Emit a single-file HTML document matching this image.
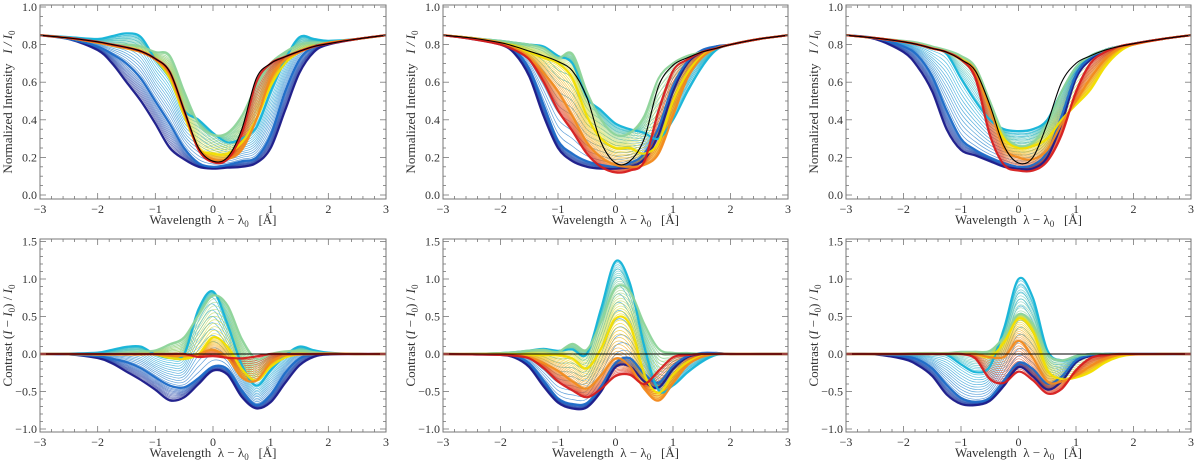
<!DOCTYPE html>
<html><head><meta charset="utf-8">
<style>
html,body{margin:0;padding:0;background:#fff;}
svg{display:block;font-family:'Liberation Serif','DejaVu Serif',serif;}
svg text{font-family:'Liberation Serif','DejaVu Serif',serif;}
</style></head>
<body>
<svg id="fig" width="1200" height="462" viewBox="0 0 1200 462" xmlns="http://www.w3.org/2000/svg"></svg>
<script>
const wavelengths=[-3,-2.5,-2,-1.75,-1.5,-1.25,-1,-0.75,-0.5,-0.25,0,0.25,0.5,0.75,1,1.25,1.5,1.75,2,2.5,3];
const xTicks=[-3,-2,-1,0,1,2,3];
const yTicksTop=[0.0,0.2,0.4,0.6,0.8,1.0];
const yTicksBot=[-1.0,-0.5,0.0,0.5,1.0,1.5];
const familyNames=['darkblue','blue','cyan','green','yellow','orange','red'];
const familyColors=['#1c1c8a','#1e6cc8','#16b4d8','#8ed49a','#f2de00','#f28a1e','#d61c1c'];
// panel 1
const p1Ref=[.85,.835,.815,.80,.785,.765,.725,.655,.45,.25,.18,.20,.35,.62,.70,.735,.765,.79,.805,.83,.85];
const p1Dark=[.85,.83,.77,.70,.60,.50,.38,.25,.19,.15,.14,.145,.15,.17,.25,.45,.65,.76,.80,.83,.85];
const p1Blue=[.85,.83,.79,.75,.70,.62,.50,.38,.25,.17,.15,.16,.18,.20,.32,.55,.72,.79,.81,.83,.85];
const p1Cyan=[.85,.84,.83,.845,.86,.84,.72,.62,.45,.40,.33,.28,.30,.36,.55,.72,.84,.83,.82,.83,.85];
const p1Green=[.85,.835,.81,.80,.80,.79,.76,.74,.55,.38,.32,.33,.42,.58,.70,.76,.80,.81,.81,.83,.85];
const p1Yellow=[.85,.835,.81,.795,.78,.76,.72,.62,.42,.25,.22,.22,.28,.40,.58,.70,.76,.79,.81,.83,.85];
const p1Orange=[.85,.835,.81,.795,.78,.76,.72,.64,.44,.25,.19,.19,.24,.40,.62,.72,.76,.79,.81,.83,.85];
const p1Red=[.85,.835,.815,.80,.785,.765,.725,.655,.45,.24,.175,.19,.33,.60,.70,.735,.765,.79,.805,.83,.85];
// panel 2
const p2Ref=[.85,.835,.81,.79,.765,.74,.71,.66,.52,.28,.17,.18,.30,.58,.69,.73,.76,.78,.80,.83,.85];
const p2Dark=[.85,.83,.80,.75,.63,.42,.25,.18,.15,.14,.14,.15,.19,.32,.55,.70,.76,.79,.80,.83,.85];
const p2Blue=[.85,.835,.81,.77,.67,.48,.29,.22,.18,.16,.15,.17,.22,.36,.58,.71,.77,.79,.80,.83,.85];
const p2Cyan=[.85,.835,.82,.81,.80,.79,.74,.70,.52,.45,.38,.35,.33,.30,.40,.55,.68,.77,.80,.83,.85];
const p2Green=[.85,.835,.82,.81,.80,.78,.73,.75,.55,.40,.32,.33,.42,.62,.70,.74,.76,.78,.80,.83,.85];
const p2Yellow=[.85,.835,.81,.79,.76,.73,.70,.62,.42,.30,.25,.25,.22,.28,.50,.65,.74,.78,.80,.83,.85];
const p2Orange=[.85,.835,.81,.78,.73,.65,.55,.42,.28,.20,.16,.15,.16,.22,.42,.62,.73,.78,.80,.83,.85];
const p2Red=[.85,.83,.80,.77,.72,.60,.45,.34,.22,.15,.12,.13,.18,.45,.66,.72,.76,.78,.80,.83,.85];
// panel 3
const p3Ref=[.85,.835,.815,.80,.78,.76,.72,.66,.48,.26,.17,.20,.38,.60,.70,.74,.77,.79,.805,.83,.85];
const p3Dark=[.85,.83,.76,.68,.55,.35,.24,.21,.18,.15,.14,.14,.20,.38,.62,.72,.77,.79,.805,.83,.85];
const p3Blue=[.85,.835,.79,.74,.63,.45,.30,.24,.20,.17,.15,.16,.23,.42,.64,.73,.77,.79,.805,.83,.85];
const p3Cyan=[.85,.835,.815,.80,.78,.75,.62,.50,.40,.35,.34,.35,.40,.55,.68,.74,.77,.79,.805,.83,.85];
const p3Green=[.85,.835,.82,.81,.79,.77,.74,.68,.50,.32,.26,.28,.38,.55,.68,.74,.77,.79,.805,.83,.85];
const p3Yellow=[.85,.835,.815,.80,.78,.76,.72,.66,.46,.30,.25,.26,.30,.40,.48,.56,.68,.76,.80,.83,.85];
const p3Orange=[.85,.835,.815,.80,.78,.76,.72,.66,.46,.25,.20,.19,.24,.38,.50,.62,.72,.78,.80,.83,.85];
const p3Red=[.85,.835,.815,.80,.78,.76,.72,.62,.32,.16,.13,.13,.18,.32,.55,.70,.76,.79,.805,.83,.85];

const panels=[
 {x0:40,x1:386,ref:p1Ref,fam:[p1Dark,p1Blue,p1Cyan,p1Green,p1Yellow,p1Orange,p1Red]},
 {x0:443,x1:788,ref:p2Ref,fam:[p2Dark,p2Blue,p2Cyan,p2Green,p2Yellow,p2Orange,p2Red]},
 {x0:846,x1:1191,ref:p3Ref,fam:[p3Dark,p3Blue,p3Cyan,p3Green,p3Yellow,p3Orange,p3Red]}
];
const NS='http://www.w3.org/2000/svg';
const svg=document.getElementById('fig');
const FSTYLE="font-family:'Liberation Serif','DejaVu Serif',serif";
function el(tag,attrs,parent){const e=document.createElementNS(NS,tag);for(const k in attrs)e.setAttribute(k,attrs[k]);(parent||svg).appendChild(e);return e;}
function hex2rgb(h){return [1,3,5].map(i=>parseInt(h.substr(i,2),16));}
function mix(a,b,t){const A=hex2rgb(a),B=hex2rgb(b);return 'rgb('+A.map((v,i)=>Math.round(v+(B[i]-v)*t)).join(',')+')';}
function smoothPath(pts){let d='M'+pts[0][0].toFixed(1)+','+pts[0][1].toFixed(1);
 for(let i=0;i<pts.length-1;i++){const p0=pts[Math.max(0,i-1)],p1=pts[i],p2=pts[i+1],p3=pts[Math.min(pts.length-1,i+2)];
  const c1=[p1[0]+(p2[0]-p0[0])/6,p1[1]+(p2[1]-p0[1])/6],c2=[p2[0]-(p3[0]-p1[0])/6,p2[1]-(p3[1]-p1[1])/6];
  d+='C'+c1[0].toFixed(1)+','+c1[1].toFixed(1)+' '+c2[0].toFixed(1)+','+c2[1].toFixed(1)+' '+p2[0].toFixed(1)+','+p2[1].toFixed(1);}
 return d;}

const TOP={yt:5,yb:199,v1:1.0,p1:7,v0:0,p0:195};
const BOT={yt:239,yb:432,v1:1.5,p1:241.5,v0:-1.0,p0:429};
function yScale(a,v){return a.p0+(v-a.v0)*(a.p1-a.p0)/(a.v1-a.v0);}

panels.forEach((P,pi)=>{
 const xs=v=>P.x0+(v+3)*(P.x1-P.x0)/6;
 [['top',TOP],['bot',BOT]].forEach(([kind,A])=>{
  const g=el('g',{});
  
  
  const clipId='c'+pi+kind;
  const cp=el('clipPath',{id:clipId},g);el('rect',{x:P.x0,y:A.yt,width:P.x1-P.x0,height:A.yb-A.yt},cp);
  const lines=el('g',{'clip-path':'url(#'+clipId+')'},g);
  const val=(prof,i)=>kind==='top'?prof[i]:prof[i]/P.ref[i]-1;
  function draw(prof,color,w,op,name){
   const pts=wavelengths.map((w0,i)=>[xs(w0),yScale(A,val(prof,i))]);
   const p=el('path',{d:smoothPath(pts),fill:'none',stroke:color,'stroke-width':w,'stroke-opacity':op},lines);
   
   
  }
  if(kind==='bot'){const z=el('line',{x1:P.x0,x2:P.x1,y1:yScale(A,0),y2:yScale(A,0),stroke:'#e89090','stroke-width':1},lines);
   }
  for(let f=0;f<P.fam.length-1;f++){
   const a=P.fam[f],b=P.fam[f+1];const N=12;
   for(let k=0;k<N;k++){const t=k/N;
    const prof=a.map((v,i)=>v+(b[i]-v)*t);
    draw(prof,mix(familyColors[f],familyColors[f+1],t),0.7,0.7,'profile-'+familyNames[f]+'-'+k);}
  }
  P.fam.forEach((prof,f)=>draw(prof,familyColors[f],2.2,0.95,'profile-'+familyNames[f]));
  draw(P.ref,'#000',1.1,1,'reference-profile');
  const fr=el('rect',{x:P.x0,y:A.yt,width:P.x1-P.x0,height:A.yb-A.yt,fill:'none',stroke:'#777','stroke-width':1},g);
  
  for(let v=-3;v<=3.001;v+=0.2){const X=xs(v);const maj=Math.abs(v-Math.round(v))<1e-6;const L=maj?6:3;
   el('line',{x1:X,x2:X,y1:A.yb,y2:A.yb-L,stroke:'#777','stroke-width':0.8},g);
   el('line',{x1:X,x2:X,y1:A.yt,y2:A.yt+L,stroke:'#777','stroke-width':0.8},g);}
  xTicks.forEach(v=>{const t=el('text',{x:xs(v),y:A.yb+14,'text-anchor':'middle','font-size':12,fill:'#333',style:FSTYLE},g);
   t.textContent=v<0?'\u2212'+(-v):String(v);});
  const minor=kind==='top'?0.05:0.1;
  for(let v=A.v0;v<=A.v1+1e-6;v+=minor){const Y=yScale(A,v);
   const maj=kind==='top'?Math.abs(v*5-Math.round(v*5))<1e-6:Math.abs(v*2-Math.round(v*2))<1e-6;const L=maj?6:3;
   el('line',{x1:P.x0,x2:P.x0+L,y1:Y,y2:Y,stroke:'#777','stroke-width':0.8},g);
   el('line',{x1:P.x1,x2:P.x1-L,y1:Y,y2:Y,stroke:'#777','stroke-width':0.8},g);}
  (kind==='top'?yTicksTop:yTicksBot).forEach(v=>{const t=el('text',{x:P.x0-3,y:yScale(A,v)+4,'text-anchor':'end','font-size':12,fill:'#333',style:FSTYLE},g);
   t.textContent=(v<0?'\u2212':'')+Math.abs(v).toFixed(1);});
  const xt=el('text',{x:(P.x0+P.x1)/2,y:A.yb+25,'text-anchor':'middle','font-size':13,fill:'#333',style:FSTYLE},g);
  xt.innerHTML='Wavelength&#160;&#160;λ − λ<tspan font-size="9" dy="3">0</tspan><tspan dy="-3">&#160;&#160;&#160;[Å]</tspan>';
  
  const cy=(A.yt+A.yb)/2;
  const yt=el('text',{transform:'translate('+(P.x0-28)+','+cy+') rotate(-90)','text-anchor':'middle','font-size':13,fill:'#333',style:FSTYLE},g);
  yt.innerHTML=kind==='top'?'Normalized Intensity&#160;&#160;&#160;<tspan font-style="italic">I / I</tspan><tspan font-size="9" dy="3">0</tspan>':'Contrast (<tspan font-style="italic">I</tspan> − <tspan font-style="italic">I</tspan><tspan font-size="9" dy="3">0</tspan><tspan dy="-3">) / </tspan><tspan font-style="italic">I</tspan><tspan font-size="9" dy="3">0</tspan>';
  
 });
});
</script>
</body></html>
